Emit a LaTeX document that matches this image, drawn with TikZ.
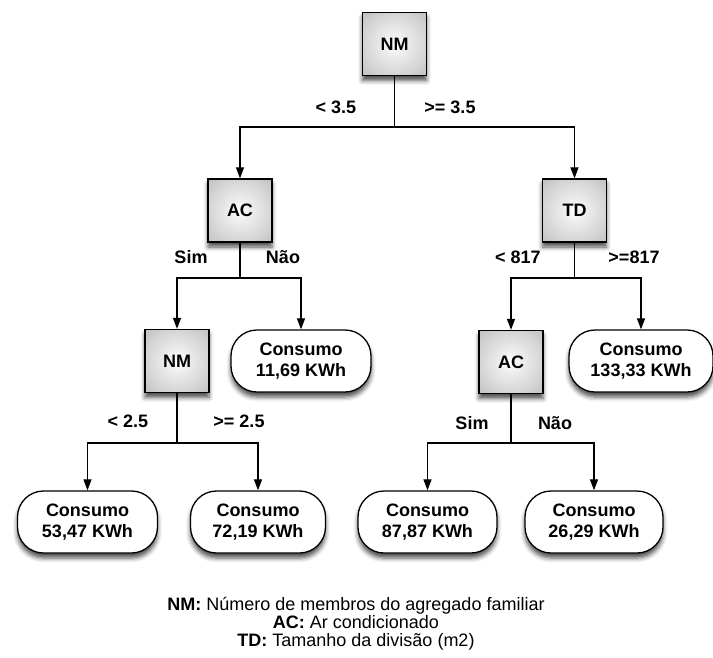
\documentclass[tikz,border=0pt]{standalone}
\usepackage{fontspec}
\setmainfont{Liberation Sans}
\usetikzlibrary{arrows.meta,shadows.blur}
% light centre fading to grey at the edges of the decision boxes
\pgfdeclareradialshading{boxshade}{\pgfpoint{0bp}{0bp}}{%
  color(0bp)=(white); color(9bp)=(white!93!black);
  color(25bp)=(black!17); color(36bp)=(black!25); color(50bp)=(black!25)}
\begin{document}
\begin{tikzpicture}[x=1pt,y=-1pt,
  softshadow/.style={blur shadow={shadow xshift=0pt,shadow yshift=-5pt,
      shadow blur radius=4.5pt,shadow opacity=70}},
  test/.style={draw=black,line width=1.3pt,minimum width=64pt,minimum height=63pt,
      inner sep=0pt,shading=boxshade,
      softshadow,font=\fontsize{18}{21}\selectfont\bfseries},
  leaf/.style={draw=black,line width=1.3pt,fill=white,rounded corners=26pt,
      minimum height=62pt,minimum width=139pt,inner sep=0pt,align=center,
      softshadow,font=\fontsize{18}{21}\selectfont\bfseries},
  cond/.style={font=\fontsize{18}{18}\selectfont\bfseries,inner sep=0pt},
  link/.style={line width=1.2pt,-{Triangle[width=8pt,length=11pt]}},
  stem/.style={line width=1.2pt}
]
\useasboundingbox (0,0) rectangle (713,657);

% decision nodes
\node[test] (nm1) at (394.5,44) {NM};
\node[test] (ac1) at (240,210.5) {AC};
\node[test] (td)  at (574.5,210.5) {TD};
\node[test] (nm2) at (177,361) {NM};
\node[test] (ac2) at (511,362) {AC};

% leaves
\node[leaf,minimum width=140pt] (l1169) at (301,361) {Consumo\\11,69 KWh};
\node[leaf,minimum width=144pt] (l13333) at (641,361) {Consumo\\133,33 KWh};
\node[leaf,minimum width=140pt] (l5347) at (87.5,522) {Consumo\\53,47 KWh};
\node[leaf,minimum width=135pt] (l7219) at (258,522) {Consumo\\72,19 KWh};
\node[leaf] (l8787) at (427.5,522) {Consumo\\87,87 KWh};
\node[leaf,minimum width=138pt] (l2629) at (594,522) {Consumo\\26,29 KWh};

% split points
\coordinate (j1) at (394.5,127);
\coordinate (j2) at (240,278);
\coordinate (j3) at (574.5,278);
\coordinate (j4) at (177,443);
\coordinate (j5) at (511,443);

% connectors
\draw[stem] (nm1.south) -- (j1);
\draw[link] (j1) -| (ac1.north);
\draw[link] (j1) -| (td.north);
\draw[stem] (ac1.south) -- (j2);
\draw[link] (j2) -| (nm2.north);
\draw[link] (j2) -| (l1169.north);
\draw[stem] (td.south) -- (j3);
\draw[link] (j3) -| (ac2.north);
\draw[link] (j3) -| (l13333.north);
\draw[stem] (nm2.south) -- (j4);
\draw[link] (j4) -| (l5347.north);
\draw[link] (j4) -| (l7219.north);
\draw[stem] (ac2.south) -- (j5);
\draw[link] (j5) -| (l8787.north);
\draw[link] (j5) -| (l2629.north);

% branch conditions
\node[cond] (c1a) at (336,107) {< 3.5};
\node[cond] (c1b) at (450,107) {>= 3.5};
\node[cond] (c2a) at (191,257) {Sim};
\node[cond] (c2b) at (283,257) {Não};
\node[cond] (c3a) at (518,257) {< 817};
\node[cond] (c3b) at (634,257) {>=817};
\node[cond] (c4a) at (128,421) {< 2.5};
\node[cond] (c4b) at (239,421) {>= 2.5};
\node[cond] (c5a) at (472,423) {Sim};
\node[cond] (c5b) at (555,423) {Não};

% legend
\node[align=center,inner sep=0pt,font=\fontsize{18}{18}\selectfont] (legend) at (356,624)
  {\textbf{NM:} Número de membros do agregado familiar\\
   \textbf{AC:} Ar condicionado\\
   \textbf{TD:} Tamanho da divisão (m2)};
\end{tikzpicture}
\end{document}
